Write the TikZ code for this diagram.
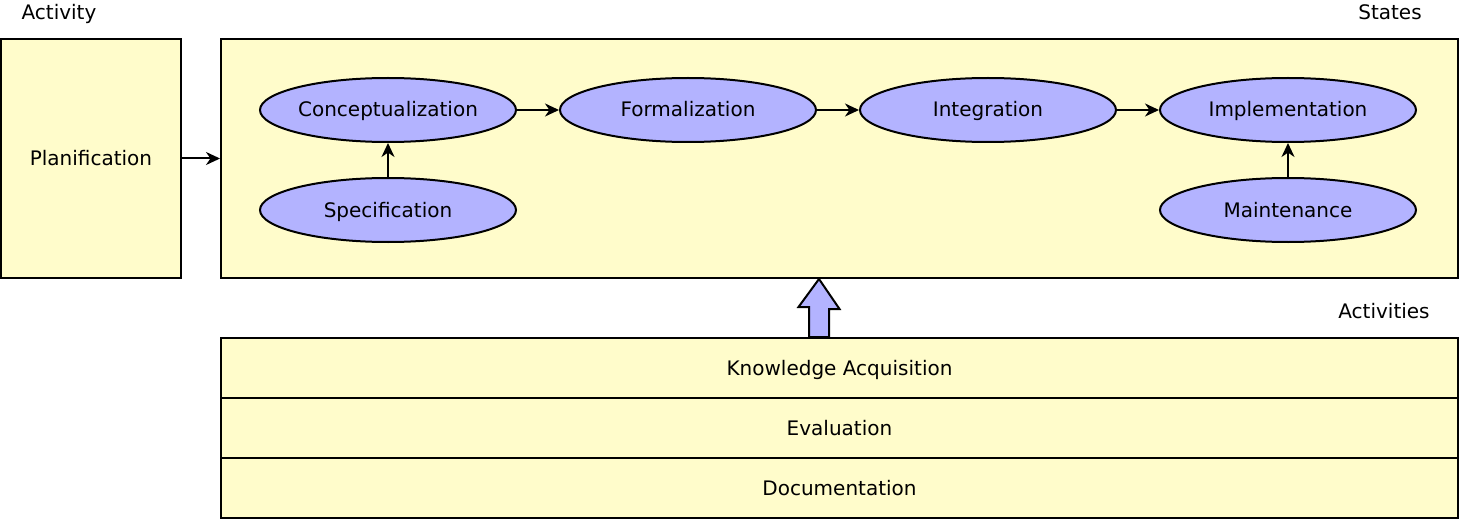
\documentclass[tikz,border=0pt]{standalone}
\usepackage{fontspec}
\setmainfont{DejaVu Sans}
\usetikzlibrary{shapes.geometric, positioning, arrows.meta}
\definecolor{boxfill}{HTML}{FFFCCB}
\definecolor{phasefill}{HTML}{B3B3FF}
\tikzset{
  >={Stealth[length=7pt, width=6.5pt, inset=2.2pt]}, % arrow heads
  node distance=150pt, % distance between two states on a row
  every node/.style={inner sep=0pt, text height=8pt, text depth=1pt}, % same baseline in every node
  phase/.style={ellipse, draw, line width=1pt, fill=phasefill, minimum width=128pt, minimum height=32pt}, % the states
  block/.style={rectangle, draw, line width=1pt, fill=boxfill}, % the yellow boxes
  lift/.style={draw, line width=1pt, fill=phasefill}, % the big arrow
}

\begin{document}
\begin{tikzpicture}[x=0.5pt, y=-0.5pt, on grid, line width=1pt]
  \useasboundingbox (0,0) rectangle (1462,519);

  \node (activity) at (59,12.5) {Activity};
  \node (stateslbl) at (1390,12.5) {States};
  \node (activities) at (1384,311) {Activities};

  \node[block, minimum width=90pt, minimum height=119.5pt] (plan) at (91,158.5) {Planification};
  \node[block, minimum width=618.5pt, minimum height=119.5pt] (states) at (839.5,158.5) {};

  \node[phase] (concept) at (388,110) {Conceptualization};
  \node[phase, right=of concept] (formal) {Formalization};
  \node[phase, right=of formal] (integ) {Integration};
  \node[phase, right=of integ] (implem) {Implementation};
  \node[phase, below=50pt of concept] (spec) {Specification};
  \node[phase, below=50pt of implem] (maint) {Maintenance};

  \node[block, minimum width=618.5pt, minimum height=30pt] (acq) at (839.5,368) {Knowledge Acquisition};
  \node[block, minimum width=618.5pt, minimum height=30pt, below=30pt of acq] (eval) {Evaluation};
  \node[block, minimum width=618.5pt, minimum height=30pt, below=30pt of eval] (doc) {Documentation};

  \draw[->] (plan) -- (states);
  \draw[->] (concept) -- (formal);
  \draw[->] (formal) -- (integ);
  \draw[->] (integ) -- (implem);
  \draw[->] (spec) -- (concept);
  \draw[->] (maint) -- (implem);

  % big arrow from the activities up to the states
  \coordinate (liftbase) at ([xshift=-10.25pt]acq.north);
  \coordinate (lifttip) at (states.south -| liftbase);
  \draw[lift] ([xshift=-5pt]liftbase) -- ++(0,-30) -- ++(-10.5,0) -- (lifttip)
    -- ++(20.5,30) -- ++(-10.5,0) -- ([xshift=5pt]liftbase) -- cycle;
\end{tikzpicture}
\end{document}
